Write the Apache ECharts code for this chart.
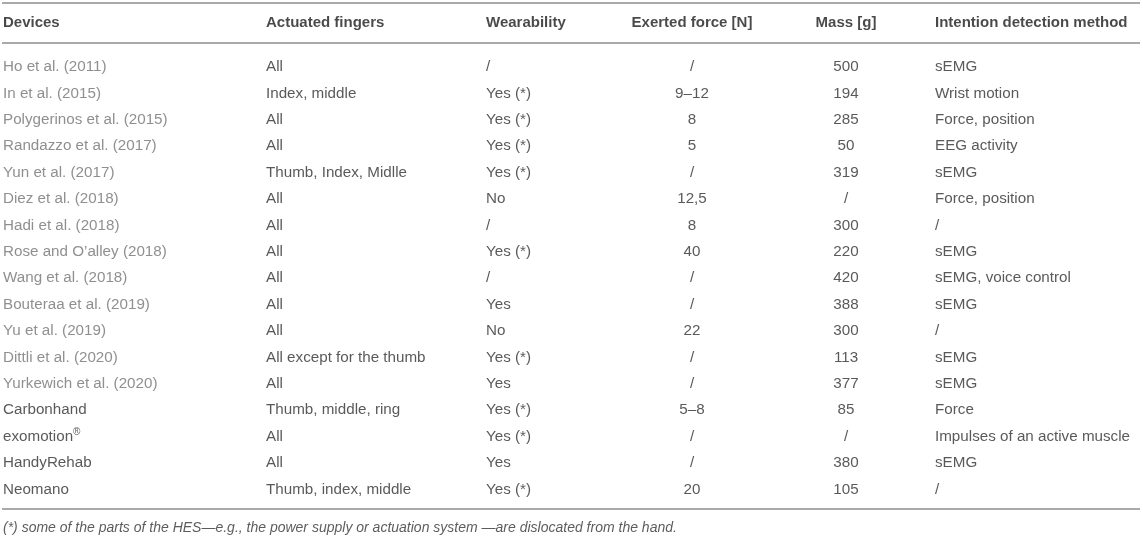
<!DOCTYPE html>
<html>
<head>
<meta charset="utf-8">
<script src="https://cdn.jsdelivr.net/npm/echarts@6/dist/echarts.min.js"></script>
<style>
  html, body { margin: 0; padding: 0; background: #fff; }
  #main { width: 1143px; height: 537px; }
</style>
</head>
<body>
<div id="main"></div>
<script>
// table data
const headers = ['Devices', 'Actuated fingers', 'Wearability', 'Exerted force [N]', 'Mass [g]', 'Intention detection method'];
const devices = ['Ho et al. (2011)', 'In et al. (2015)', 'Polygerinos et al. (2015)', 'Randazzo et al. (2017)', 'Yun et al. (2017)',
  'Diez et al. (2018)', 'Hadi et al. (2018)', 'Rose and O\u2019alley (2018)', 'Wang et al. (2018)', 'Bouteraa et al. (2019)',
  'Yu et al. (2019)', 'Dittli et al. (2020)', 'Yurkewich et al. (2020)', 'Carbonhand', 'exomotion{sup|\u00ae}', 'HandyRehab', 'Neomano'];
const fingers = ['All', 'Index, middle', 'All', 'All', 'Thumb, Index, Midlle', 'All', 'All', 'All', 'All', 'All', 'All',
  'All except for the thumb', 'All', 'Thumb, middle, ring', 'All', 'All', 'Thumb, index, middle'];
const wearability = ['/', 'Yes (*)', 'Yes (*)', 'Yes (*)', 'Yes (*)', 'No', '/', 'Yes (*)', '/', 'Yes', 'No', 'Yes (*)', 'Yes',
  'Yes (*)', 'Yes (*)', 'Yes', 'Yes (*)'];
const force = ['/', '9\u201312', '8', '5', '/', '12,5', '8', '40', '/', '/', '22', '/', '/', '5\u20138', '/', '/', '20'];
const mass = ['500', '194', '285', '50', '319', '/', '300', '220', '420', '388', '300', '113', '377', '85', '/', '380', '105'];
const detection = ['sEMG', 'Wrist motion', 'Force, position', 'EEG activity', 'sEMG', 'Force, position', '/', 'sEMG',
  'sEMG, voice control', 'sEMG', '/', 'sEMG', 'sEMG', 'Force', 'Impulses of an active muscle', 'sEMG', '/'];
const footnote = '(*) some of the parts of the HES\u2014e.g., the power supply or actuation system \u2014are dislocated from the hand.';

// layout
const columns = [devices, fingers, wearability, force, mass, detection];
const colX = [3, 266, 486, 692, 846, 935];
const colAlign = ['left', 'left', 'left', 'center', 'center', 'left'];
const H = 537, rowTop = 67, rowStep = 26.4;
const toRow = px => (px - rowTop) / rowStep;

const font = "'Liberation Sans', Arial, Helvetica, sans-serif";
const isCitation = s => /\(\d{4}\)/.test(s);

const chart = echarts.init(document.getElementById('main'));

const cellSeries = columns.map((col, j) => ({
  type: 'scatter',
  symbolSize: 0,
  silent: true,
  clip: false,
  data: col.map((txt, i) => ({
    value: [colX[j], i, txt],
    label: { color: (j === 0 && isCitation(txt)) ? '#737373' : '#303030' }
  })),
  label: {
    show: true,
    position: [0, 0],
    align: colAlign[j],
    verticalAlign: 'middle',
    fontFamily: font,
    fontSize: 15.2,
    formatter: p => p.value[2],
    rich: {
      sup: { fontSize: 10, fontFamily: font, color: '#303030', padding: [0, 0, 9, 0] }
    }
  }
}));

const option = {
  animation: false,
  grid: { left: 2, right: 3, top: 0, bottom: 0 },
  xAxis: { type: 'value', min: 2, max: 1140, show: false },
  yAxis: { type: 'value', inverse: true, min: toRow(0), max: toRow(H), show: false },
  series: [
    ...cellSeries,
    {
      // header row, rules and footnote
      type: 'scatter',
      symbolSize: 0,
      silent: true,
      clip: false,
      data: headers.map((h, j) => ({
        value: [colX[j], toRow(23), h],
        label: { align: colAlign[j] }
      })).concat([{
        value: [3, toRow(528), footnote],
        label: { align: 'left', fontWeight: 'normal', fontStyle: 'italic', fontSize: 14, color: '#333' }
      }]),
      label: {
        show: true,
        position: [0, 0],
        verticalAlign: 'middle',
        fontFamily: font,
        fontSize: 15,
        fontWeight: 'bold',
        color: '#1c1c1c',
        formatter: p => p.value[2]
      },
      markLine: {
        silent: true,
        symbol: 'none',
        label: { show: false },
        lineStyle: { color: '#a9a9a9', width: 1.8, type: 'solid' },
        data: [{ yAxis: toRow(3) }, { yAxis: toRow(43) }, { yAxis: toRow(509) }]
      }
    }
  ]
};

option && chart.setOption(option);
</script>
</body>
</html>
